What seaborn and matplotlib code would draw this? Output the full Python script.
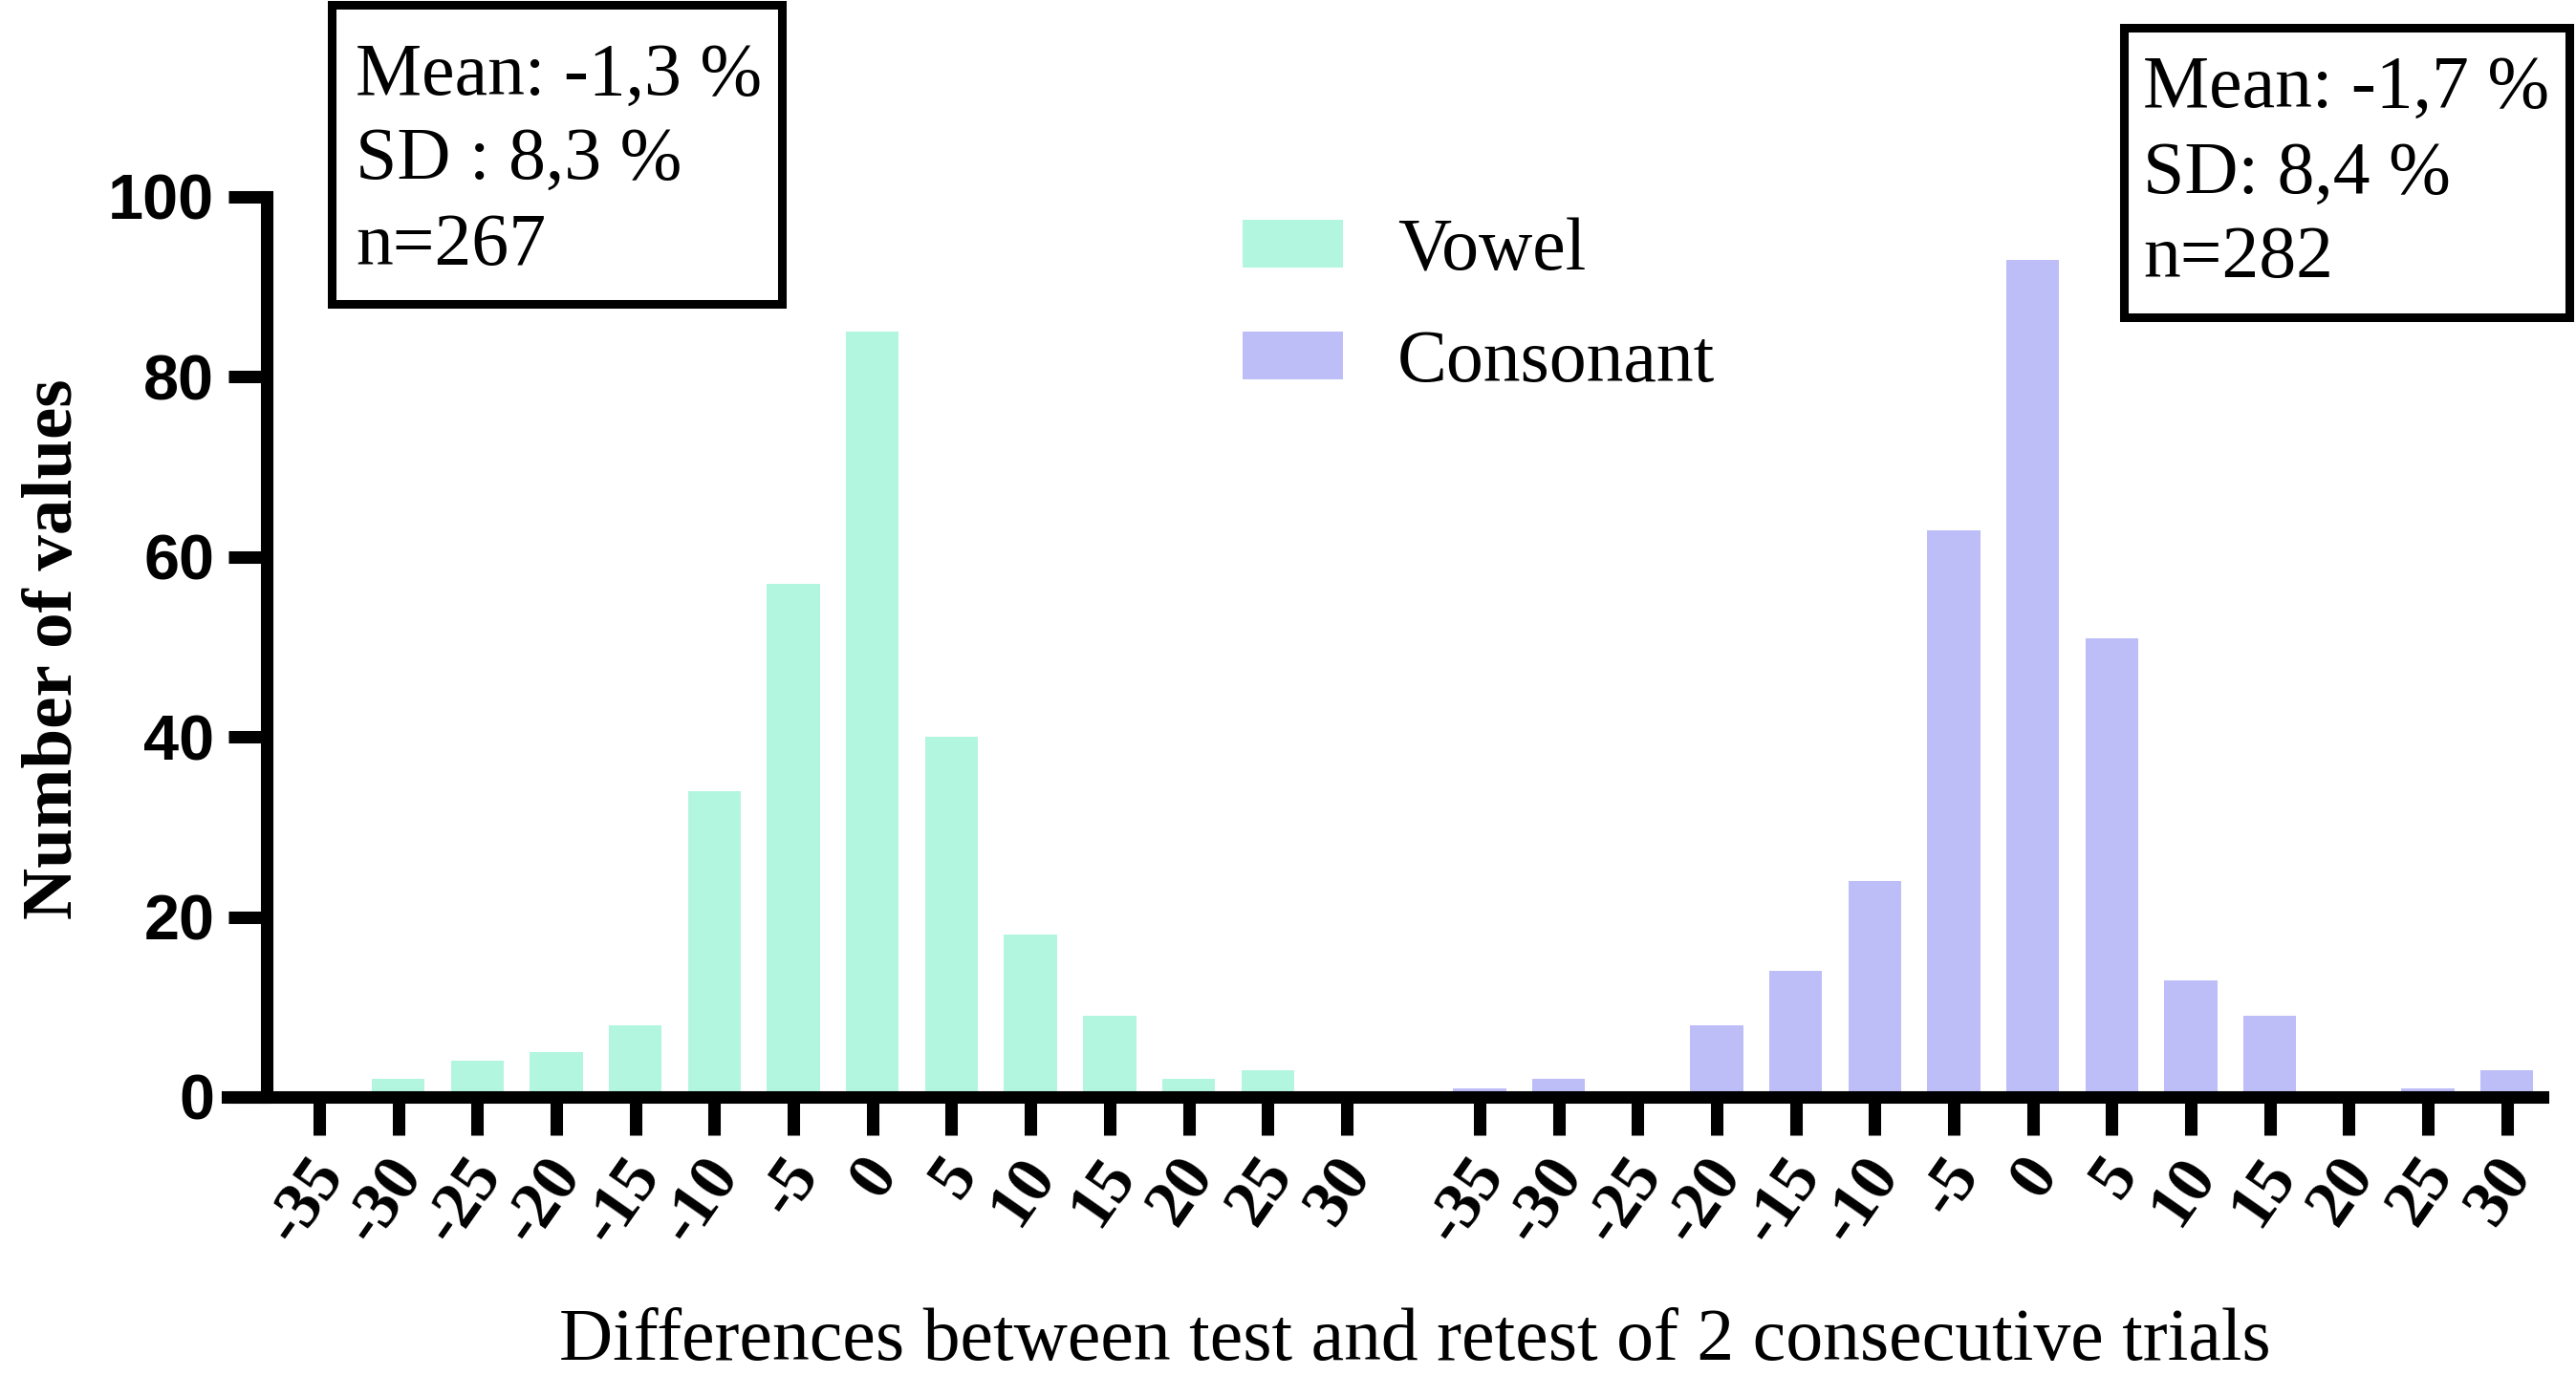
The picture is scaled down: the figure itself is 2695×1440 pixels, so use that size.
import numpy as np
import pandas as pd
import matplotlib
matplotlib.use("Agg")
import matplotlib.pyplot as plt
import matplotlib.transforms as mtransforms
import seaborn as sns
from matplotlib.patches import Rectangle, Patch

# histogram bins (% difference) and counts per bin
diff_labels = [-35, -30, -25, -20, -15, -10, -5, 0, 5, 10, 15, 20, 25, 30]
vowel_counts = [0, 2, 4, 5, 8, 34, 57, 85, 40, 18, 9, 2, 3, 0]
consonant_counts = [1, 2, 0, 8, 14, 24, 63, 93, 51, 13, 9, 0, 1, 3]
groups = ["Vowel", "Consonant"]
vowel_stats = ["Mean: -1,3 %", "SD : 8,3 %", "n=267"]
consonant_stats = ["Mean: -1,7 %", "SD: 8,4 %", "n=282"]
y_ticks = [0, 20, 40, 60, 80, 100]
x_title = "Differences between test and retest of 2 consecutive trials"
y_title = "Number of values"

colors = {"Vowel": "#b3f6df", "Consonant": "#bdbdf8"}
W, H = 2695, 1440
extra_gap = 0.68  # additional space between the two histograms, in bins

sns.set_theme(style="white")
plt.rcParams["font.family"] = ["Liberation Serif", "DejaVu Serif"]
plt.rcParams.update({"text.color": "black", "xtick.color": "black",
                     "ytick.color": "black", "axes.labelcolor": "black"})

n_bins = len(diff_labels)
pos_vowel = np.arange(n_bins)
pos_cons = np.arange(n_bins) + n_bins + extra_gap

df = pd.DataFrame({
    "pos": np.concatenate([pos_vowel, pos_cons]),
    "count": vowel_counts + consonant_counts,
    "group": [groups[0]] * n_bins + [groups[1]] * n_bins,
})

fig = plt.figure(figsize=(W / 100, H / 100), dpi=100)
ax = fig.add_axes([238 / W, (H - 1148) / H, (2660 - 238) / W, (1148 - 206) / H])

sns.barplot(data=df, x="pos", y="count", hue="group", palette=colors,
            native_scale=True, dodge=False, width=0.67, saturation=1,
            errorbar=None, linewidth=0, legend=False, ax=ax)

ax.set_xlim(-1.16, 28.13)
ax.set_ylim(0, 100)
ax.set_xlabel("")
ax.set_ylabel("")

for side in ["top", "right"]:
    ax.spines[side].set_visible(False)
for side in ["left", "bottom"]:
    ax.spines[side].set_linewidth(9.4)
    ax.spines[side].set_color("black")
ax.spines["left"].set_position(("data", -0.67))

ax.set_yticks(y_ticks)
ax.set_yticklabels([str(t) for t in y_ticks], fontfamily="Liberation Sans",
                   fontweight="bold", fontsize=48, color="black")
ax.set_xticks(df["pos"])
ax.set_xticklabels([str(v) for v in diff_labels * 2], fontweight="bold",
                   fontsize=50, rotation=55, ha="right", va="center",
                   rotation_mode="anchor", color="black")
ax.tick_params(axis="both", direction="out", length=29, width=9.4,
               color="black", pad=10, bottom=True, left=True)
ax.tick_params(axis="x", pad=22)
shift = mtransforms.ScaledTranslation(13 / 100, 0, fig.dpi_scale_trans)
for lab in ax.get_xticklabels():
    lab.set_transform(lab.get_transform() + shift)

# axis titles
fig.text(1480 / W, (H - 1423) / H, x_title, fontsize=56, ha="center",
         va="baseline")
fig.text(75 / W, (H - 679) / H, y_title, fontsize=54, fontweight="bold",
         rotation=90, rotation_mode="anchor", ha="center", va="baseline")

# legend
handles = [Patch(facecolor=colors[g], edgecolor="none") for g in groups]
fig.legend(handles, groups, loc="upper left",
           bbox_to_anchor=(1300 / W, (H - 228) / H),
           bbox_transform=fig.transFigure, frameon=False, fontsize=56,
           handlelength=1.35, handleheight=0.62, handletextpad=0.73,
           labelspacing=0.58, borderpad=0, borderaxespad=0)

# summary boxes
boxes = [
    (347, 5, 818, 318, 372, [99, 187, 277], vowel_stats),
    (2222, 29, 2688, 332, 2242, [112, 202, 290], consonant_stats),
]
for x0, y0, x1, y1, tx, baselines, lines in boxes:
    fig.patches.append(Rectangle((x0 / W, (H - y1) / H), (x1 - x0) / W,
                                 (y1 - y0) / H, transform=fig.transFigure,
                                 fill=False, edgecolor="black", linewidth=6.5))
    for line, b in zip(lines, baselines):
        fig.text(tx / W, (H - b) / H, line, fontsize=56, ha="left",
                 va="baseline")

fig.savefig("out.png", dpi=100)
